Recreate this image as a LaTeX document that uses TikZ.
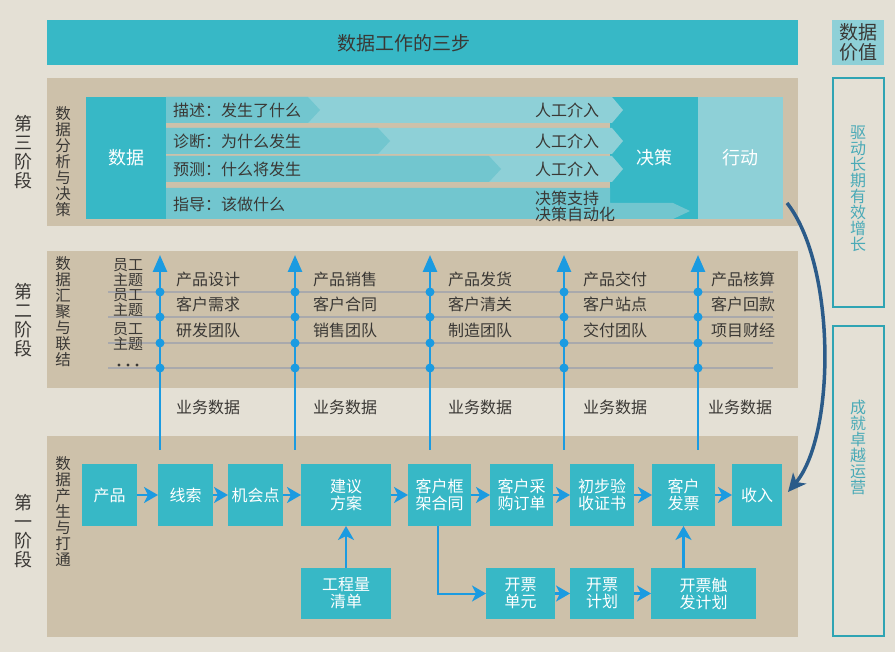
\documentclass[tikz,border=0pt]{standalone}
\usepackage{fontspec}
\setmainfont{Noto Sans CJK SC}
\usetikzlibrary{arrows.meta}
\definecolor{bgc}{HTML}{E4E0D5}
\definecolor{tan}{HTML}{CDC1AA}
\definecolor{tealA}{HTML}{37B8C6}
\definecolor{lteal}{HTML}{8ED0D7}
\definecolor{mteal}{HTML}{72C6CF}
\definecolor{blu}{HTML}{1B9BE1}
\definecolor{gline}{HTML}{A9A9AC}
\definecolor{navy}{HTML}{2B5B89}
\definecolor{frame}{HTML}{2FA4B3}
\definecolor{vtxt}{HTML}{4AAAB7}
\definecolor{txt}{HTML}{3A3835}
\begin{document}
\begin{tikzpicture}[x=1pt,y=-1pt,
  every node/.style={inner sep=0pt,outer sep=0pt},
  tbox/.style={fill=tealA,text=white,font=\fontsize{16}{17}\selectfont,align=center},
  harr/.style={draw=blu,line width=2.6pt,-{Stealth[length=14pt,width=16pt,inset=4pt]}},
  varr/.style={draw=blu,line width=2.6pt,-{Triangle[length=17pt,width=14pt]}},
  stg/.style={font=\fontsize{18}{19}\selectfont,text=txt,align=center},
  subl/.style={font=\fontsize{15.5}{16}\selectfont,text=txt,align=center},
  lbl/.style={font=\fontsize{16}{17}\selectfont,text=txt},
  panel/.style={fill=tan},
  dot/.style={fill=blu}
]
\fill[bgc] (0,0) rectangle (895,652);
\useasboundingbox (0,0) rectangle (895,652);

% title and value box
\node[fill=tealA,minimum width=751pt,minimum height=45pt] (title) at (422.5,42.5) {};
\node[font=\fontsize{19}{20}\selectfont,text=txt] at (404,43) {数据工作的三步};
\node[fill=lteal,minimum width=52pt,minimum height=45pt,font=\fontsize{19}{20}\selectfont,text=txt,align=center] (val) at (858,42.5) {数据\\价值};

% panels
\fill[panel] (47,78) rectangle (798,226);
\fill[panel] (47,251) rectangle (798,388);
\fill[panel] (47,436) rectangle (798,637);

% stage labels
\node[stg] at (23,152) {第\\三\\阶\\段};
\node[stg] at (23,320) {第\\二\\阶\\段};
\node[stg] at (23,531) {第\\一\\阶\\段};
\node[subl] at (63,162) {数\\据\\分\\析\\与\\决\\策};
\node[subl] at (63,312) {数\\据\\汇\\聚\\与\\联\\结};
\node[subl] at (63,512) {数\\据\\产\\生\\与\\打\\通};

% ---------- stage 3 ----------
\node[fill=tealA,minimum width=80pt,minimum height=122pt,text=white,font=\fontsize{18}{19}\selectfont] (data) at (126,158) {数据};
\node[fill=tealA,minimum width=88pt,minimum height=122pt] (dec) at (654,158) {};
\node[fill=lteal,minimum width=85pt,minimum height=122pt,text=white,font=\fontsize{18}{19}\selectfont] (act) at (740.5,158) {行动};
% light chevrons
\fill[lteal] (166,97) -- (612,97) -- (623,110) -- (612,123) -- (166,123) -- cycle;
\fill[lteal] (166,128) -- (612,128) -- (623,141) -- (612,154) -- (166,154) -- cycle;
\fill[lteal] (166,156) -- (612,156) -- (623,169) -- (612,182) -- (166,182) -- cycle;
% darker chevrons
\fill[mteal] (166,97) -- (308,97) -- (320,110) -- (308,123) -- (166,123) -- cycle;
\fill[mteal] (166,128) -- (378,128) -- (390,141) -- (378,154) -- (166,154) -- cycle;
\fill[mteal] (166,156) -- (489,156) -- (501,169) -- (489,182) -- (166,182) -- cycle;
\fill[mteal] (166,188) -- (610,188) -- (610,203) -- (673,203) -- (690,211) -- (673,219) -- (166,219) -- cycle;
\node[text=white,font=\fontsize{18}{19}\selectfont] at (654,158) {决策};
% row texts
\node[lbl,anchor=west] at (173,110) {描述：发生了什么};
\node[lbl,anchor=west] at (173,141) {诊断：为什么发生};
\node[lbl,anchor=west] at (173,169) {预测：什么将发生};
\node[lbl,anchor=west] at (173,204) {指导：该做什么};
\node[lbl,anchor=west] at (535,110) {人工介入};
\node[lbl,anchor=west] at (535,141) {人工介入};
\node[lbl,anchor=west] at (535,169) {人工介入};
\node[lbl,anchor=west] at (535,198) {决策支持};
\node[lbl,anchor=west] at (535,214) {决策自动化};

% ---------- stage 2 ----------
\foreach \yy in {292,317,343,368} \draw[gline,line width=2pt] (108,\yy) -- (773,\yy);
\node[font=\fontsize{15}{15}\selectfont,text=txt,align=center] at (128,273) {员工\\主题};
\node[font=\fontsize{15}{15}\selectfont,text=txt,align=center] at (128,303) {员工\\主题};
\node[font=\fontsize{15}{15}\selectfont,text=txt,align=center] at (128,337) {员工\\主题};
\foreach \xx in {119,128,137} \fill[txt] (\xx,365) circle (1.6pt);
\foreach \xx [count=\i] in {160,295,430,564,698} {
  \coordinate (vb\i) at (\xx,450);
  \coordinate (vt\i) at (\xx,255);
  \draw[varr] (vb\i) -- (vt\i);
  \foreach \yy in {292,317,343,368} \fill[dot] (\xx,\yy) circle (4.5pt);
}
\foreach \xx/\a/\b/\c in {208/产品设计/客户需求/研发团队,345/产品销售/客户合同/销售团队,480/产品发货/客户清关/制造团队,615/产品交付/客户站点/交付团队,743/产品核算/客户回款/项目财经} {
  \node[lbl] at (\xx,279) {\a};
  \node[lbl] at (\xx,304) {\b};
  \node[lbl] at (\xx,330) {\c};
}
\foreach \xx in {208,345,480,615,740} \node[lbl] at (\xx,407) {业务数据};

% ---------- stage 1 ----------
\node[tbox,minimum width=55pt,minimum height=62pt] (p1) at (109.5,495) {产品};
\node[tbox,minimum width=55pt,minimum height=62pt] (p2) at (185.5,495) {线索};
\node[tbox,minimum width=55pt,minimum height=62pt] (p3) at (255.5,495) {机会点};
\node[tbox,minimum width=90pt,minimum height=62pt] (p4) at (346,495) {建议\\方案};
\node[tbox,minimum width=63pt,minimum height=62pt] (p5) at (439.5,495) {客户框\\架合同};
\node[tbox,minimum width=63pt,minimum height=62pt] (p6) at (521.5,495) {客户采\\购订单};
\node[tbox,minimum width=64pt,minimum height=62pt] (p7) at (602,495) {初步验\\收证书};
\node[tbox,minimum width=63pt,minimum height=62pt] (p8) at (683.5,495) {客户\\发票};
\node[tbox,minimum width=50pt,minimum height=62pt] (p9) at (757,495) {收入};
\node[tbox,minimum width=90pt,minimum height=51pt] (q1) at (346,593.5) {工程量\\清单};
\node[tbox,minimum width=69pt,minimum height=51pt] (q2) at (520.5,593.5) {开票\\单元};
\node[tbox,minimum width=64pt,minimum height=51pt] (q3) at (602,593.5) {开票\\计划};
\node[tbox,minimum width=105pt,minimum height=51pt] (q4) at (703.5,593.5) {开票触\\发计划};
\draw[harr] (p1) -- (p2);
\draw[harr] (p2) -- (p3);
\draw[harr] (p3) -- (p4);
\draw[harr] (p4) -- (p5);
\draw[harr] (p5) -- (p6);
\draw[harr] (p6) -- (p7);
\draw[harr] (p7) -- (p8);
\draw[harr] (p8) -- (p9);
\draw[harr] (q1) -- (p4);
\draw[harr] (q2) -- (q3);
\draw[harr] (q3) -- (q4);
\draw[harr] (p8.south |- q4.north) -- (p8.south);
\draw[harr,line width=2pt] ([xshift=-1.5pt]p5.south) |- (q2.west);

% ---------- curved arrow ----------
\coordinate (cs) at (787,203);
\coordinate (ce) at (788,492);
\draw[navy,line width=3.5pt,-{Stealth[length=18pt,width=17pt,inset=5pt]}] (cs) .. controls (836,265) and (836,435) .. (ce);

% ---------- right boxes ----------
\node[draw=frame,line width=2pt,minimum width=51pt,minimum height=229pt] (vb) at (858,193) {};
\node[draw=frame,line width=2pt,minimum width=51pt,minimum height=309pt] (vc) at (858,481) {};
\node[font=\fontsize{16}{16}\selectfont,text=vtxt,align=center] at (858,189) {驱\\动\\长\\期\\有\\效\\增\\长};
\node[font=\fontsize{16}{16}\selectfont,text=vtxt,align=center] at (858,447) {成\\就\\卓\\越\\运\\营};
\end{tikzpicture}
\end{document}
